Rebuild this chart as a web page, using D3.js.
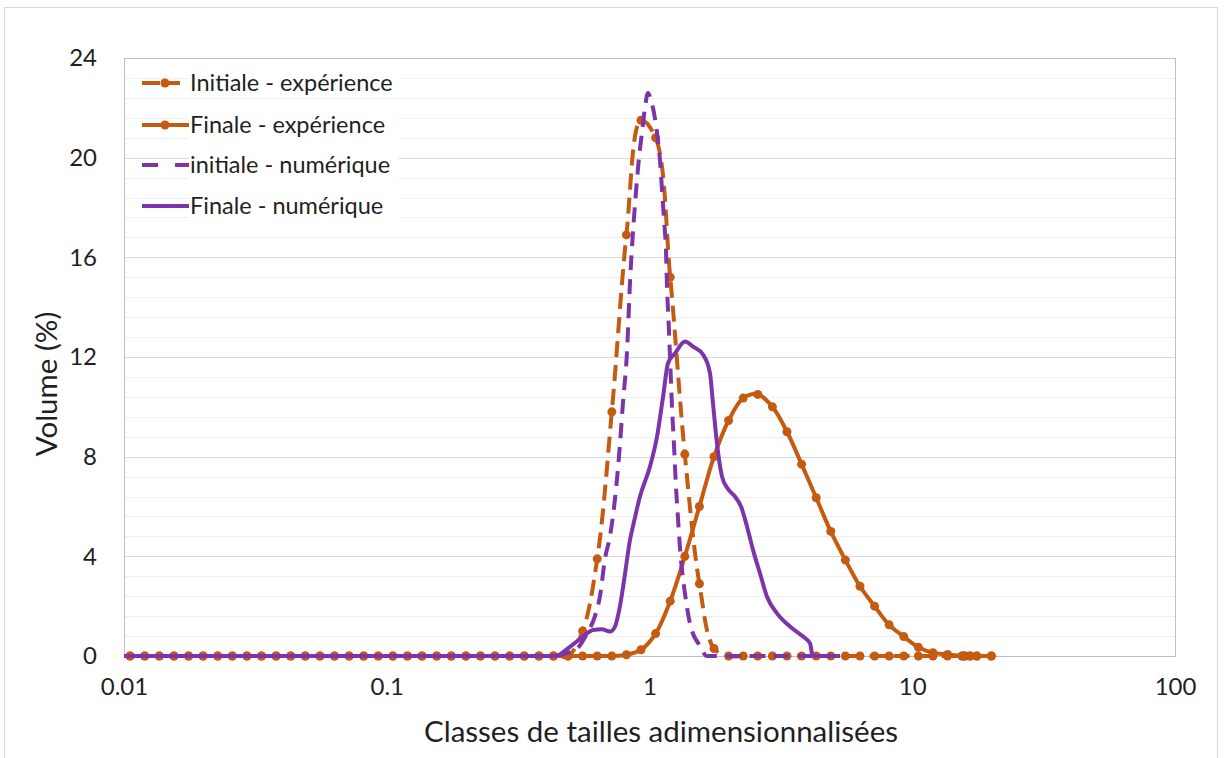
<!DOCTYPE html>
<html>
<head>
<meta charset="utf-8">
<script src="https://cdn.jsdelivr.net/npm/d3@7"></script>
<style>
  html, body { margin: 0; padding: 0; background: #fff; }
  svg { display: block; }
  text { font-family: Lato, "Open Sans", sans-serif; fill: #1f1f1f; }
</style>
</head>
<body>
<svg id="chart" width="1228" height="758"></svg>
<script>
// ---------- data ----------
// size classes (dimensionless) used by the experimental series
const sizes = [0.01055, 0.01199, 0.01363, 0.01549, 0.0176, 0.02, 0.02273, 0.02583, 0.02936, 0.03336,
  0.03792, 0.04309, 0.04897, 0.05565, 0.06325, 0.07188, 0.08169, 0.09284, 0.10551, 0.11991,
  0.13627, 0.15487, 0.176, 0.2, 0.2273, 0.25831, 0.29357, 0.33362, 0.37915, 0.43089,
  0.48969, 0.55652, 0.63246, 0.71877, 0.81686, 0.92832, 1.055, 1.199, 1.3626, 1.5486,
  1.7599, 2.0, 2.273, 2.5831, 2.9356, 3.3362, 3.7914, 4.3088, 4.8968, 5.5651,
  6.3246, 7.1877, 8.1686, 9.2833, 10.55, 11.99, 13.626, 15.486, 15.88, 16.59, 17.599, 20.0];

const initialExp = [0, 0, 0, 0, 0, 0, 0, 0, 0, 0,
  0, 0, 0, 0, 0, 0, 0, 0, 0, 0,
  0, 0, 0, 0, 0, 0, 0, 0, 0, 0,
  0, 1.0, 3.9, 9.8, 16.9, 21.5, 20.8, 15.2, 8.1, 2.9,
  0.3, 0, 0, 0, 0, 0, 0, 0, 0, 0,
  0, 0, 0, 0, 0, 0, 0, 0, 0, 0, 0, 0];

const finalExp = [0, 0, 0, 0, 0, 0, 0, 0, 0, 0,
  0, 0, 0, 0, 0, 0, 0, 0, 0, 0,
  0, 0, 0, 0, 0, 0, 0, 0, 0, 0,
  0, 0, 0, 0, 0.05, 0.25, 0.9, 2.2, 4.0, 6.0,
  8.0, 9.45, 10.35, 10.5, 10.0, 9.0, 7.7, 6.35, 5.0, 3.85,
  2.8, 2.0, 1.25, 0.78, 0.35, 0.13, 0.06, 0, 0, 0, 0, 0];

// numerical series
const initialNumX = [0.01, 0.437, 0.477, 0.53, 0.578, 0.62, 0.648, 0.677, 0.707, 0.739,
  0.772, 0.793, 0.821, 0.843, 0.865, 0.888, 0.912, 0.936, 0.961, 0.987,
  1.013, 1.04, 1.068, 1.096, 1.116, 1.136, 1.156, 1.166, 1.181, 1.197,
  1.218, 1.239, 1.261, 1.284, 1.307, 1.365, 1.426, 1.557, 1.655, 5.31];
const initialNumY = [0, 0, 0.1, 0.3, 0.9, 1.6, 2.4, 3.9, 4.8, 6.3,
  8.5, 10.2, 12.2, 15.0, 17.0, 18.6, 20.0, 21.0, 22.0, 22.6,
  22.3, 21.8, 21.0, 19.9, 18.7, 17.5, 16.2, 14.8, 13.5, 12.0,
  10.0, 8.5, 6.8, 5.5, 4.3, 2.5, 1.3, 0.4, 0, 0];

const finalNumX = [0.01, 0.437, 0.498, 0.558, 0.61, 0.659, 0.707, 0.739, 0.772, 0.807,
  0.843, 0.865, 0.92, 1.004, 1.068, 1.126, 1.176, 1.251, 1.365, 1.464,
  1.598, 1.699, 1.744, 1.806, 1.888, 1.99, 2.115, 2.23, 2.35, 2.477,
  2.633, 2.801, 3.058, 3.425, 3.839, 4.082, 4.154, 4.19, 5.31];
const finalNumY = [0, 0, 0.37, 0.78, 1.04, 1.07, 0.98, 1.18, 2.0, 3.3,
  4.66, 5.2, 6.4, 7.6, 8.8, 10.4, 11.75, 12.15, 12.62, 12.42,
  12.1, 11.35, 10.15, 8.54, 7.2, 6.7, 6.4, 6.0, 5.2, 4.26,
  3.32, 2.38, 1.71, 1.18, 0.78, 0.51, 0.1, 0, 0];

const xTicks = [0.01, 0.1, 1, 10, 100];
const xTickLabels = ["0.01", "0.1", "1", "10", "100"];
const yTicks = [0, 4, 8, 12, 16, 20, 24];
const seriesNames = ["Initiale - expérience", "Finale - expérience", "initiale - numérique", "Finale - numérique"];

// ---------- layout ----------
const plot = { left: 124, right: 1175, top: 58, bottom: 656 };
const ORANGE = "#c55a11", PURPLE = "#7b35a8";
const LW = 4;

const svg = d3.select("#chart");
const x = d3.scaleLog().domain([0.01, 100]).range([plot.left, plot.right]);
const y = d3.scaleLinear().domain([0, 24]).range([plot.bottom, plot.top]);

// outer chart frame
svg.append("rect").attr("x", 4.5).attr("y", 7.5).attr("width", 1213).attr("height", 800)
  .attr("fill", "none").attr("stroke", "#d9d9d9").attr("stroke-width", 1);

// minor gridlines (every 0.8)
const minor = d3.range(0, 24.001, 0.8).filter(v => Math.abs(v / 4 - Math.round(v / 4)) > 1e-6);
svg.append("g").selectAll("line").data(minor).join("line")
  .attr("x1", plot.left).attr("x2", plot.right)
  .attr("y1", d => Math.round(y(d)) + 0.5).attr("y2", d => Math.round(y(d)) + 0.5)
  .attr("stroke", "#efefef").attr("stroke-width", 1);

// major gridlines
svg.append("g").selectAll("line").data(yTicks).join("line")
  .attr("x1", plot.left).attr("x2", plot.right)
  .attr("y1", d => Math.round(y(d)) + 0.5).attr("y2", d => Math.round(y(d)) + 0.5)
  .attr("stroke", "#d9d9d9").attr("stroke-width", 1);

// plot border
svg.append("rect").attr("x", plot.left + 0.5).attr("y", plot.top + 0.5)
  .attr("width", plot.right - plot.left).attr("height", plot.bottom - plot.top)
  .attr("fill", "none").attr("stroke", "#bfbfbf").attr("stroke-width", 1);

// axes (labels only)
const yAxis = d3.axisLeft(y).tickValues(yTicks).tickSize(0).tickPadding(27);
const gy = svg.append("g").attr("transform", `translate(${plot.left},0)`).call(yAxis);
gy.select(".domain").remove();
gy.selectAll("text").attr("font-size", 24).attr("fill", "#1f1f1f").style("font-family", "Lato, sans-serif");

const xAxis = d3.axisBottom(x).tickValues(xTicks).tickFormat((d, i) => xTickLabels[i]).tickSize(0).tickPadding(22);
const gx = svg.append("g").attr("transform", `translate(0,${plot.bottom})`).call(xAxis);
gx.select(".domain").remove();
gx.selectAll("text").attr("font-size", 24).attr("fill", "#1f1f1f").style("font-family", "Lato, sans-serif");

// axis titles
svg.append("text").attr("x", 661).attr("y", 742).attr("text-anchor", "middle")
  .attr("font-size", 29.5).text("Classes de tailles adimensionnalisées");
svg.append("text").attr("transform", "translate(57,384) rotate(-90)").attr("text-anchor", "middle")
  .attr("font-size", 29.5).text("Volume (%)");

// ---------- series ----------
const g = svg.append("g");
const expLine = d3.line().x(d => x(d[0])).y(d => y(d[1])).curve(d3.curveCatmullRom.alpha(0.5));
const numLine = d3.line().x(d => x(d[0])).y(d => y(d[1])).curve(d3.curveMonotoneX);

const initExpPts = sizes.map((s, i) => [s, initialExp[i]]);
const finalExpPts = sizes.map((s, i) => [s, finalExp[i]]);
const initNumPts = initialNumX.map((s, i) => [s, initialNumY[i]]);
const finalNumPts = finalNumX.map((s, i) => [s, finalNumY[i]]);

// final experiment (solid orange with markers)
g.append("path").datum(finalExpPts).attr("d", expLine)
  .attr("fill", "none").attr("stroke", ORANGE).attr("stroke-width", LW);
g.append("g").selectAll("circle").data(finalExpPts).join("circle")
  .attr("cx", d => x(d[0])).attr("cy", d => y(d[1])).attr("r", 4.5).attr("fill", ORANGE);

// initial experiment (dashed orange with markers)
g.append("path").datum(initExpPts).attr("d", expLine)
  .attr("fill", "none").attr("stroke", ORANGE).attr("stroke-width", LW)
  .attr("stroke-dasharray", "16,8");
g.append("g").selectAll("circle").data(initExpPts).join("circle")
  .attr("cx", d => x(d[0])).attr("cy", d => y(d[1])).attr("r", 4.5).attr("fill", ORANGE);

// initial numerical (dashed purple)
g.append("path").datum(initNumPts).attr("d", numLine)
  .attr("fill", "none").attr("stroke", PURPLE).attr("stroke-width", LW)
  .attr("stroke-dasharray", "15,9");

// final numerical (solid purple)
g.append("path").datum(finalNumPts).attr("d", numLine)
  .attr("fill", "none").attr("stroke", PURPLE).attr("stroke-width", LW);

// ---------- legend ----------
const legendRows = [83, 125, 165, 206];
const legendStyles = [
  { color: ORANGE, dash: "18,6,14", marker: true },
  { color: ORANGE, dash: null, marker: true },
  { color: PURPLE, dash: "16,17,14", marker: false },
  { color: PURPLE, dash: null, marker: false }
];
const lg = svg.append("g");
seriesNames.forEach((name, i) => {
  const yy = legendRows[i];
  const st = legendStyles[i];
  lg.append("rect").attr("x", 189).attr("y", yy - 15).attr("width", 210).attr("height", 30).attr("fill", "#fff");
  const ln = lg.append("line").attr("x1", 142).attr("x2", 189).attr("y1", yy).attr("y2", yy)
    .attr("stroke", st.color).attr("stroke-width", LW);
  if (st.dash) ln.attr("stroke-dasharray", st.dash);
  if (st.marker) lg.append("circle").attr("cx", 165).attr("cy", yy).attr("r", 4.5).attr("fill", st.color);
  lg.append("text").attr("x", 190).attr("y", yy).attr("dy", "0.35em").attr("font-size", 23.5).text(name);
});
</script>
</body>
</html>
